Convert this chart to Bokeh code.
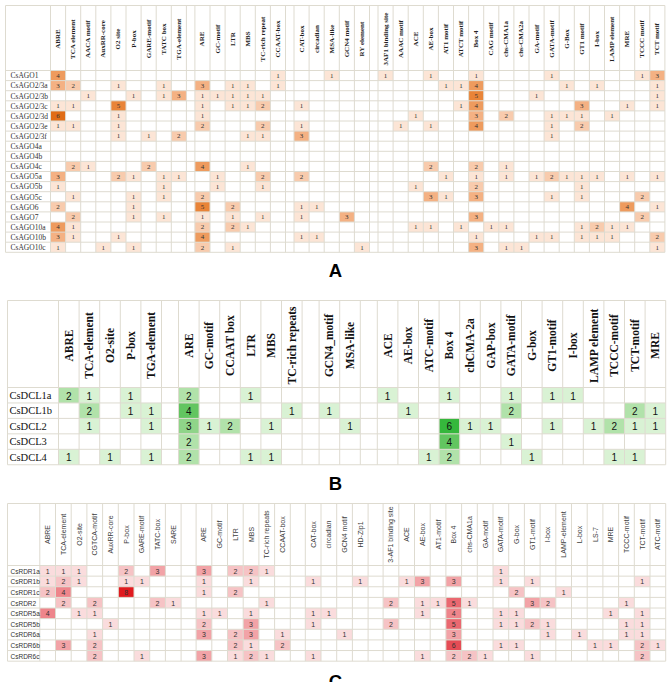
import numpy as np
from bokeh.plotting import figure
from bokeh.models import Range1d, LinearColorMapper, ColumnDataSource
from bokeh.transform import transform
from bokeh.core.properties import value
from bokeh.embed import file_html
from bokeh.resources import INLINE

# ---------------- Panel A data ----------------
A_ROWS = ["CsAGO1", "CsAGO2/3a", "CsAGO2/3b", "CsAGO2/3c", "CsAGO2/3d", "CsAGO2/3e",
          "CsAGO2/3f", "CsAGO4a", "CsAGO4b", "CsAGO4c", "CsAGO5a", "CsAGO5b", "CsAGO5c",
          "CsAGO6", "CsAGO7", "CsAGO10a", "CsAGO10b", "CsAGO10c"]
A_GROUP1 = ["ABRE", "TCA element", "AACA motif", "AuxRR-core", "O2 site", "P-box",
            "GARE-motif", "TATC box", "TGA-element"]
A_GROUP2 = ["ARE", "GC-motif", "LTR", "MBS", "TC-rich repeat", "CCAAT-box"]
A_GROUP3 = ["CAT-box", "circadian", "MSA-like", "GCN4 motif", "RY element"]
A_GROUP4 = ["3AF1 binding site", "AAAC motif", "ACE", "AE-box", "AT1 motif", "ATCT motif",
            "Box 4", "CAG motif", "chs-CMA1a", "chs-CMA2a", "GA-motif", "GATA-motif",
            "G-Box", "GT1 motif", "I-box", "LAMP element", "MRE", "TCCC motif", "TCT motif"]
A_VALUES = [
    [4,0,0,0,0,0,0,0,0, 0,0,0,0,0,1, 0,0,1,0,0, 1,0,0,1,0,0,1,0,0,0,0,1,0,0,0,0,0,1,3],
    [3,2,0,0,1,0,0,1,0, 3,0,1,1,0,1, 0,0,0,0,0, 0,0,0,0,1,1,4,0,0,0,0,0,1,0,1,0,0,0,1],
    [0,0,1,0,0,1,0,1,3, 1,1,1,1,1,0, 0,0,0,0,0, 0,0,0,0,0,0,5,0,0,0,1,0,0,0,0,0,0,0,1],
    [1,1,0,0,5,0,0,0,0, 1,0,1,1,2,0, 1,0,0,0,0, 0,0,0,0,0,1,4,0,0,0,0,0,0,3,0,0,1,0,1],
    [6,0,0,0,1,0,0,0,0, 1,0,0,0,0,0, 0,0,0,0,0, 0,0,1,0,0,0,3,0,2,0,0,1,1,1,0,1,0,0,0],
    [1,1,0,0,1,0,0,0,0, 2,0,0,0,2,0, 1,0,0,0,0, 0,1,0,1,0,0,4,0,0,0,0,1,0,2,0,0,0,0,0],
    [0,0,0,0,1,0,1,0,2, 0,0,0,1,1,0, 3,0,0,0,0, 0,0,0,0,0,0,0,0,0,0,0,1,0,0,0,0,0,0,0],
    [0,0,0,0,0,0,0,0,0, 0,0,0,0,0,0, 0,0,0,0,0, 0,0,0,0,0,0,0,0,0,0,0,0,0,0,0,0,0,0,0],
    [0,0,0,0,0,0,0,0,0, 0,0,0,0,0,0, 0,0,0,0,0, 0,0,0,0,0,0,0,0,0,0,0,0,0,0,0,0,0,0,0],
    [0,2,1,0,0,0,2,0,0, 4,0,0,1,0,0, 0,0,0,0,0, 0,0,0,2,0,0,2,0,1,0,0,0,0,0,0,0,0,0,0],
    [3,0,0,0,2,1,0,1,1, 0,1,0,0,2,0, 2,0,0,0,0, 0,0,0,0,1,0,1,0,1,0,1,2,1,1,1,0,1,0,1],
    [1,0,0,0,0,0,0,1,0, 0,1,0,0,1,0, 0,0,0,0,0, 0,0,1,0,0,0,2,0,0,0,0,0,0,1,0,0,0,0,0],
    [0,1,0,0,0,1,0,1,0, 2,0,0,0,0,0, 0,0,0,0,0, 0,0,0,3,1,0,3,0,0,0,0,1,0,1,0,0,0,2,0],
    [2,0,0,0,0,1,0,0,0, 5,0,2,0,0,0, 1,1,0,0,0, 0,0,0,0,0,0,0,0,0,0,0,0,0,0,0,0,4,0,1],
    [0,2,0,0,0,1,0,1,0, 1,0,1,0,1,0, 1,0,0,3,0, 0,0,0,0,0,0,3,0,0,0,0,0,0,0,0,0,0,2,0],
    [4,1,0,0,0,0,0,0,0, 2,0,2,1,0,0, 0,0,0,0,0, 0,0,1,1,0,1,0,1,1,0,0,0,0,1,2,1,1,0,0],
    [3,1,0,0,1,0,0,0,0, 4,0,0,0,0,0, 1,1,0,0,0, 0,0,0,0,0,0,1,0,0,0,1,1,0,1,1,1,0,0,2],
    [1,0,0,1,0,1,0,0,0, 2,0,1,0,0,0, 0,0,0,0,1, 0,0,0,0,0,0,3,0,1,1,0,0,0,0,0,0,0,0,1],
]

# ---------------- Panel B data ----------------
B_ROWS = ["CsDCL1a", "CsDCL1b", "CsDCL2", "CsDCL3", "CsDCL4"]
B_GROUP1 = ["ABRE", "TCA-element", "O2-site", "P-box", "TGA-element"]
B_GROUP2 = ["ARE", "GC-motif", "CCAAT box", "LTR", "MBS", "TC-rich repeats"]
B_GROUP3 = ["GCN4_motif", "MSA-like"]
B_GROUP4 = ["ACE", "AE-box", "ATC-motif", "Box 4", "chCMA-2a", "GAP-box", "GATA-motif",
            "G-box", "GT1-motif", "I-box", "LAMP element", "TCCC-motif", "TCT-motif", "MRE"]
B_VALUES = [
    [2,1,0,1,0, 2,0,0,1,0,0, 0,0, 1,0,0,1,0,0,1,0,1,1,0,0,0,0],
    [0,2,0,1,1, 4,0,0,0,0,1, 1,0, 0,1,0,0,0,0,2,0,0,0,0,0,2,1],
    [0,1,0,0,1, 3,1,2,0,1,0, 0,1, 0,0,0,6,1,1,0,0,1,0,1,2,1,1],
    [0,0,0,0,0, 2,0,0,0,0,0, 0,0, 0,0,0,4,0,0,1,0,0,0,0,0,0,0],
    [1,0,1,0,1, 2,0,0,1,1,0, 0,0, 0,0,1,2,0,0,0,1,0,0,0,1,1,0],
]

# ---------------- Panel C data ----------------
C_ROWS = ["CsRDR1a", "CsRDR1b", "CsRDR1c", "CsRDR2", "CsRDR5a", "CsRDR5b",
          "CsRDR6a", "CsRDR6b", "CsRDR6c"]
C_GROUP1 = ["ABRE", "TCA-element", "O2-site", "CGTCA-motif", "AuxRR-core", "P-box",
            "GARE-motif", "TATC-box", "SARE"]
C_GROUP2 = ["ARE", "GC-motif", "LTR", "MBS", "TC-rich repeats", "CCAAT-box"]
C_GROUP3 = ["CAT-box", "circadian", "GCN4 motif", "HD-Zip1"]
C_GROUP4 = ["3-AF1 binding site", "ACE", "AE-box", "AT1-motif", "Box 4", "chs-CMA1a",
            "GA-motif", "GATA-motif", "G-box", "GT1-motif", "I-box", "LAMP-element",
            "L-box", "LS-7", "MRE", "TCCC-motif", "TCT-motif", "ATC-motif"]
C_VALUES = [
    [1,1,1,0,0,2,0,3,0, 3,0,2,2,1,0, 0,0,0,0, 0,0,0,0,0,0,0,1,0,0,0,0,0,0,0,0,0,0],
    [1,2,1,0,0,1,1,0,0, 1,0,0,1,0,0, 1,0,0,1, 0,1,3,0,3,0,0,1,0,1,0,0,0,0,0,0,1,0],
    [2,4,0,0,0,8,0,0,0, 1,0,2,0,0,0, 0,0,0,0, 0,0,0,0,0,0,0,0,2,0,0,1,0,0,0,0,0,0],
    [0,2,0,2,0,0,0,2,1, 0,0,0,0,1,0, 0,0,0,0, 2,0,1,1,5,1,0,0,0,3,2,0,0,0,0,1,0,0],
    [4,0,1,1,0,0,0,0,0, 1,1,0,1,0,0, 1,1,0,0, 0,0,1,0,4,0,0,1,1,0,0,0,0,0,1,0,1,0],
    [0,0,0,0,1,0,0,0,0, 2,0,0,3,0,0, 1,0,0,0, 2,0,0,0,5,0,0,1,1,2,1,0,0,0,0,1,1,0],
    [0,0,0,1,0,0,0,0,0, 3,0,2,3,0,1, 0,0,1,0, 0,0,0,0,3,0,0,0,0,0,1,0,1,0,0,1,1,0],
    [0,3,0,2,0,0,0,0,0, 0,0,2,1,0,2, 0,0,0,0, 0,0,0,0,6,0,0,1,1,0,0,0,0,1,1,0,2,1],
    [0,0,0,2,0,0,1,0,0, 3,0,1,2,1,0, 1,0,0,0, 0,0,1,0,2,2,1,0,0,1,0,0,0,0,0,0,2,0],
]

PANEL_LABELS = ["A", "B", "C"]

# ---------------- styles ----------------
PAL_A = ["#FCE5D6", "#F8CBAD", "#F4B183", "#EE9B5E", "#E98438", "#E06C16"]
PAL_B = ["#D9F2D4", "#B1E2AA", "#8FD489", "#62C560", "#4BBE4E", "#35B73C"]
PAL_C = ["#FADCDD", "#F6C3C5", "#F2A3A7", "#EE858B", "#EA6870", "#E54C55", "#E2303A", "#E01A1F"]
GRID = "#DEDBD0"

W, H = 670, 682

p = figure(width=W, height=H, x_range=Range1d(0, W), y_range=Range1d(H, 0),
           output_backend="svg", toolbar_location=None, min_border=0,
           x_axis_location=None, y_axis_location=None)
p.grid.visible = False
p.outline_line_color = None
p.background_fill_color = "white"


def draw_panel(groups, rows, values, g, pal, st):
    cols = [c for grp in groups for c in grp]
    sizes = [len(grp) for grp in groups]
    cw = g["cw"]
    lefts = []
    x = g["x0"] + g["label_w"]
    bounds = [g["x0"], x]
    for gi, n in enumerate(sizes):
        for k in range(n):
            lefts.append(x + k * cw)
            bounds.append(x + (k + 1) * cw)
        x += n * cw
        if gi < len(sizes) - 1:
            x += g["gap"]
            bounds.append(x)
    right = x
    lefts = np.array(lefts)
    centers = lefts + cw / 2
    nrows = len(rows)
    rh = g["row_h"]
    row_tops = g["hdr_bottom"] + np.arange(nrows) * rh
    bottom = g["hdr_bottom"] + nrows * rh

    V = np.array(values)
    ri, ci = np.nonzero(V)
    src = ColumnDataSource(dict(
        left=list(lefts[ci]), right=list(lefts[ci] + cw),
        top=list(row_tops[ri]), bottom=list(row_tops[ri] + rh),
        xc=list(centers[ci]), yc=list(row_tops[ri] + rh / 2 + st["val_dy"]),
        v=[int(v) for v in V[ri, ci]], t=[str(int(v)) for v in V[ri, ci]]))
    mapper = LinearColorMapper(palette=pal, low=0.5, high=len(pal) + 0.5)
    p.quad(left="left", right="right", top="top", bottom="bottom", source=src,
           fill_color=transform("v", mapper), line_color=None)

    hy = [g["top"], g["hdr_bottom"]] + list(row_tops[1:]) + [bottom]
    p.segment(x0=[g["x0"]] * len(hy), x1=[right] * len(hy), y0=hy, y1=hy,
              line_color=GRID, line_width=1)
    p.segment(x0=bounds, x1=bounds, y0=[g["top"]] * len(bounds), y1=[bottom] * len(bounds),
              line_color=GRID, line_width=1)

    p.text(x="xc", y="yc", text="t", source=src, text_align="center", text_baseline="middle",
           text_font=value(st["val_font"]), text_font_size=st["val_size"],
           text_color=st["val_color"])

    p.text(x=list(centers), y=[g["hdr_mid"]] * len(cols), text=cols, angle=np.pi / 2,
           text_align="center", text_baseline="middle",
           text_font=value(st["hdr_font"]), text_font_size=st["hdr_size"],
           text_font_style=st["hdr_style"], text_color=st["hdr_color"])

    p.text(x=[g["x0"] + g["label_pad"]] * nrows, y=list(row_tops + rh / 2 + st["val_dy"]),
           text=rows, text_align="left", text_baseline="middle",
           text_font=value(st["row_font"]), text_font_size=st["row_size"],
           text_color=st["row_color"])


draw_panel([A_GROUP1, A_GROUP2, A_GROUP3, A_GROUP4], A_ROWS, A_VALUES,
           dict(x0=5, label_w=45, cw=15.1, gap=8.5, top=5, hdr_bottom=70, row_h=10.1,
                hdr_mid=38.5, label_pad=5),
           PAL_A,
           dict(val_font="Liberation Serif", val_size="7px", val_color="#333333", val_dy=0.3,
                hdr_font="Liberation Serif", hdr_size="7px", hdr_style="bold", hdr_color="#222222",
                row_font="Liberation Serif", row_size="7.5px", row_color="#333333"))

draw_panel([B_GROUP1, B_GROUP2, B_GROUP3, B_GROUP4], B_ROWS, B_VALUES,
           dict(x0=7, label_w=51, cw=20.6, gap=17, top=300, hdr_bottom=387, row_h=15.45,
                hdr_mid=345, label_pad=2),
           PAL_B,
           dict(val_font="Liberation Sans", val_size="10px", val_color="#111111", val_dy=0.3,
                hdr_font="Liberation Serif", hdr_size="11.5px", hdr_style="bold", hdr_color="#111111",
                row_font="Liberation Serif", row_size="10.5px", row_color="#111111"))

draw_panel([C_GROUP1, C_GROUP2, C_GROUP3, C_GROUP4], C_ROWS, C_VALUES,
           dict(x0=7, label_w=32.3, cw=15.7, gap=15, top=503, hdr_bottom=565, row_h=10.63,
                hdr_mid=534, label_pad=3),
           PAL_C,
           dict(val_font="Liberation Sans", val_size="7px", val_color="#333333", val_dy=0.3,
                hdr_font="Liberation Sans", hdr_size="7px", hdr_style="normal", hdr_color="#404040",
                row_font="Liberation Sans", row_size="6.5px", row_color="#333333"))

p.text(x=[335, 335, 335], y=[270, 483, 681], text=PANEL_LABELS,
       text_align="center", text_baseline="alphabetic", text_font=value("Liberation Sans"),
       text_font_size="18.5px", text_font_style="bold", text_color="#000000")

open("out.html", "w").write(file_html(p, INLINE))
